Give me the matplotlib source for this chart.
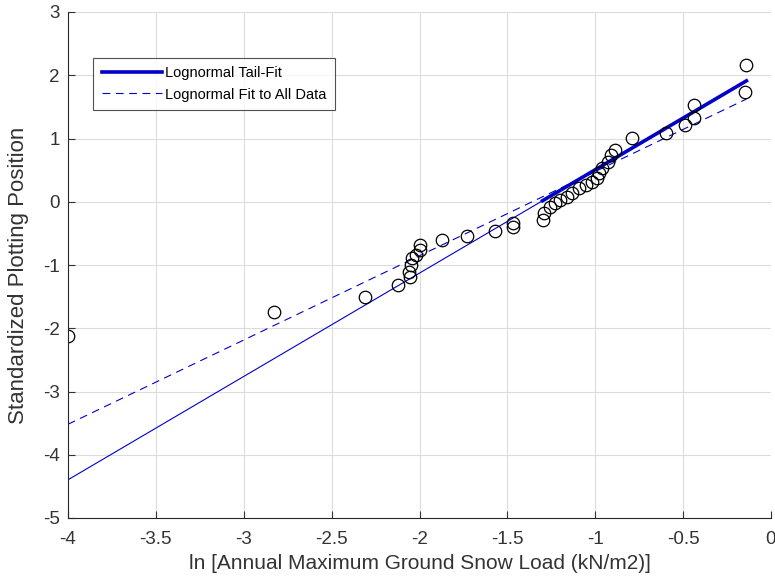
import numpy as np
import matplotlib
matplotlib.use("Agg")
import matplotlib.pyplot as plt

plt.rcParams['font.family'] = ['Liberation Sans', 'DejaVu Sans']
plt.rcParams['axes.unicode_minus'] = False

# observed points: ln(snow load) vs standardized plotting position
ln_load = [-4.00, -2.83, -2.31, -2.12, -2.056, -2.06, -2.046, -2.04, -2.02, -2.00,
           -2.00, -1.87, -1.73, -1.57, -1.47, -1.47,
           -1.30, -1.29, -1.26, -1.23, -1.20, -1.16, -1.13, -1.09, -1.05, -1.02,
           -0.99, -0.98, -0.96, -0.93, -0.91, -0.89, -0.79,
           -0.60, -0.49, -0.44, -0.44, -0.15, -0.14]
plot_pos = [-2.13, -1.74, -1.51, -1.32, -1.19, -1.11, -1.00, -0.89, -0.84, -0.76,
            -0.68, -0.61, -0.54, -0.47, -0.40, -0.34,
            -0.29, -0.18, -0.08, -0.02, 0.03, 0.07, 0.14, 0.22, 0.26, 0.31,
            0.38, 0.45, 0.53, 0.63, 0.74, 0.82, 1.01,
            1.08, 1.21, 1.33, 1.53, 1.74, 2.16]

# fitted lines (slope, intercept)
tail_fit = (1.634, 2.14)
all_fit = (1.332, 1.81)
tail_range = [-1.30, -0.14]
full_range = [-4.0, -0.14]

x_ticks = [-4, -3.5, -3, -2.5, -2, -1.5, -1, -0.5, 0]
x_tick_labels = ['-4', '-3.5', '-3', '-2.5', '-2', '-1.5', '-1', '-0.5', '0']
y_ticks = [-5, -4, -3, -2, -1, 0, 1, 2, 3]

fig = plt.figure(figsize=(7.75, 5.83), dpi=100)
ax = fig.add_axes([68 / 775, 65 / 583, 703 / 775, 506 / 583])

blue = '#0000c8'
xf = np.array(full_range)
xt = np.array(tail_range)
ax.plot(xf, tail_fit[0] * xf + tail_fit[1], color=blue, lw=0.8)
ax.plot(xt, tail_fit[0] * xt + tail_fit[1], color=blue, lw=2.6, label='Lognormal Tail-Fit')
ax.plot(xf, all_fit[0] * xf + all_fit[1], color=blue, lw=0.8, ls=(0, (7, 5)),
        label='Lognormal Fit to All Data')
ax.plot(ln_load, plot_pos, 'o', mfc='none', mec='black', ms=9, mew=0.9)

ax.set_xlim(-4, 0)
ax.set_ylim(-5, 3)
ax.set_xticks(x_ticks)
ax.set_xticklabels(x_tick_labels)
ax.set_yticks(y_ticks)
ax.grid(True, color='#dcdcdc', lw=0.8)
ax.set_axisbelow(True)
for s in ['top', 'right']:
    ax.spines[s].set_visible(False)
for s in ['left', 'bottom']:
    ax.spines[s].set_color('#262626')
    ax.spines[s].set_linewidth(0.8)
ax.tick_params(direction='in', length=5, width=0.8, labelsize=13.5, colors='#333333')
ax.tick_params(axis='x', pad=9)
ax.tick_params(axis='y', pad=6)

ax.set_xlabel('ln [Annual Maximum Ground Snow Load (kN/m2)]', fontsize=15, color='#333333')
ax.xaxis.set_label_coords(0.5, -0.089)
ax.xaxis.label.set_va('center')
ax.set_ylabel('Standardized Plotting Position', fontsize=16, color='#333333')
ax.yaxis.set_label_coords(-0.07, 0.48)
ax.yaxis.label.set_va('center')

leg = ax.legend(loc='upper left', bbox_to_anchor=(0.036, 0.91), fontsize=10.5,
                frameon=True, fancybox=False, edgecolor='#262626', handlelength=4.1,
                handletextpad=0.2, borderpad=0.6, labelspacing=0.5, borderaxespad=0)
leg.get_frame().set_linewidth(0.8)

fig.savefig('out.png', dpi=100)
